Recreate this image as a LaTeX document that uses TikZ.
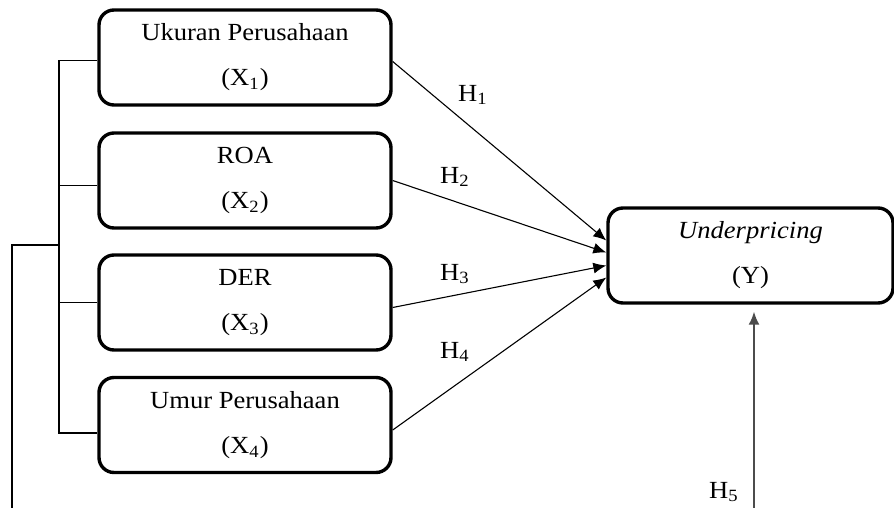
\documentclass[tikz,border=0pt]{standalone}
\usepackage{fontspec}
\setmainfont{Liberation Serif}
\usetikzlibrary{arrows.meta}
\newcommand{\sx}[1]{\scalebox{1.08}[1]{#1}}
\begin{document}
\begin{tikzpicture}[x=0.5pt,y=-0.5pt,
  box/.style={draw, line width=1.7pt, rounded corners=7.5pt, minimum width=146pt, minimum height=47.5pt, inner sep=0pt, align=center, font=\fontsize{12.3}{14}\selectfont},
  link/.style={line width=0.55pt},
  arr/.style={link, -{Latex[length=6.5pt,width=5.5pt]}},
  hl/.style={inner sep=0pt, font=\fontsize{12.3}{14}\selectfont}]
\useasboundingbox (0,0) rectangle (894,508);
% boxes
\node[box] (b1) at (245,57.5) {\sx{Ukuran Perusahaan}\\[8.5pt]\sx{(X\textsubscript{1})}};
\node[box] (b2) at (245,180.5) {\sx{ROA}\\[8.5pt]\sx{(X\textsubscript{2})}};
\node[box] (b3) at (245,302.5) {\sx{DER}\\[8.5pt]\sx{(X\textsubscript{3})}};
\node[box] (b4) at (245,425) {\sx{Umur Perusahaan}\\[8.5pt]\sx{(X\textsubscript{4})}};
\node[box, minimum width=142.5pt] (y) at (750.5,255.5) {\sx{\itshape Underpricing}\\[8.5pt]\sx{(Y)}};
% targets on Y
\coordinate (t1) at ([yshift=7.5pt]y.west);
\coordinate (t2) at ([yshift=1.5pt]y.west);
\coordinate (t3) at ([yshift=-5pt]y.west);
\coordinate (t4) at ([yshift=-11pt]y.west);
\draw[arr] ([yshift=-2pt]b1.east) -- (t1);
\draw[arr] (b2.east) -- (t2);
\draw[arr] ([yshift=-2.5pt]b3.east) -- (t3);
\draw[arr] ([yshift=-2.5pt]b4.east) -- (t4);
% labels
\node[hl] (h1) at (473,95) {\sx{H\textsubscript{1}}};
\node[hl] (h2) at (455,177) {\sx{H\textsubscript{2}}};
\node[hl] (h3) at (455,274) {\sx{H\textsubscript{3}}};
\node[hl] (h4) at (455,352) {\sx{H\textsubscript{4}}};
\node[hl] (h5) at (724,492) {\sx{H\textsubscript{5}}};
% left bracket
\coordinate (sp) at (59,0);
\coordinate (jn) at (59,245);
\coordinate (lf) at (12,245);
\coordinate (lb) at (12,508);
\draw[link] ([yshift=-1.5pt]b1.west) -- ([yshift=-1.5pt]b1.west -| sp) -- ([yshift=-4pt]b4.west -| sp) -- ([yshift=-4pt]b4.west);
\draw[link] ([yshift=-2.5pt]b2.west) -- ([yshift=-2.5pt]b2.west -| sp);
\draw[link] (b3.west) -- (b3.west -| sp);
\draw[link] (jn) -- (lf) -- (lb);
% H5 arrow
\coordinate (h5s) at (754,508);
\draw[arr, line width=0.9pt, draw=black!70] (h5s) -- (y.south -| h5s) [shorten >=3.5pt];
\end{tikzpicture}
\end{document}
